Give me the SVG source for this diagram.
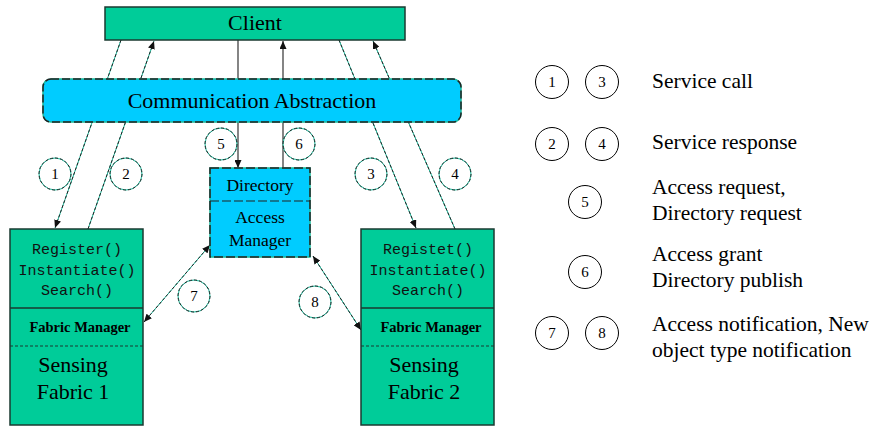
<svg xmlns="http://www.w3.org/2000/svg" width="878" height="426" viewBox="0 0 878 426">
<style>
.serif{font-family:"Liberation Serif","Times New Roman",serif;fill:#000}
.mid{text-anchor:middle}
.mono{font-family:"Liberation Mono","Courier New",monospace;font-size:15px;fill:#111;text-anchor:middle}
.num{font-family:"Liberation Serif","Times New Roman",serif;font-size:15px;text-anchor:middle;fill:#000}
.leg{font-family:"Liberation Serif","Times New Roman",serif;font-size:21.5px;fill:#000}
.green{fill:#00cc99;stroke:#1a3a30;stroke-width:1.5}
.cyanbg{fill:#00ccff;stroke:#17b89a;stroke-width:1.5}
.cyandash{fill:none;stroke:#222;stroke-width:1.5}
.teal{stroke:#17b89a;stroke-width:1;fill:none}
.dk{stroke:#222;stroke-width:1;fill:none;stroke-dasharray:3 2}
.solid{stroke:#333;stroke-width:1.2;fill:none}
.c1{fill:#fff;stroke:#17b89a;stroke-width:1}
.c2{fill:none;stroke:#222;stroke-width:1;stroke-dasharray:3 2}
.lc{fill:#fff;stroke:#000;stroke-width:1}
.sep{stroke:#1a3a30;stroke-width:1.5}
.sepd{stroke:#1a3a30;stroke-width:1;stroke-dasharray:3 2}
</style>
<defs>
<marker id="ah" markerWidth="8" markerHeight="7" refX="8" refY="3.5" orient="auto-start-reverse" markerUnits="userSpaceOnUse">
<path d="M0,0 L8,3.5 L0,7 z" fill="#111"/>
</marker>
</defs>
<rect width="878" height="426" fill="#fff"/>

<g id="connectors">
<line class="teal" x1="121" y1="40" x2="55" y2="228"/>
<line class="dk" x1="121" y1="40" x2="55" y2="228" marker-end="url(#ah)"/>
<line class="teal" x1="88" y1="229" x2="154" y2="41"/>
<line class="dk" x1="88" y1="229" x2="154" y2="41" marker-end="url(#ah)"/>
<line class="teal" x1="339" y1="40" x2="416" y2="228"/>
<line class="dk" x1="339" y1="40" x2="416" y2="228" marker-end="url(#ah)"/>
<line class="teal" x1="455" y1="229" x2="373" y2="41"/>
<line class="dk" x1="455" y1="229" x2="373" y2="41" marker-end="url(#ah)"/>
<line class="solid" x1="238" y1="40" x2="238" y2="168" marker-end="url(#ah)"/>
<line class="solid" x1="283" y1="168" x2="283" y2="41" marker-end="url(#ah)"/>
<line class="teal" x1="210" y1="245" x2="144" y2="322"/>
<line class="dk" x1="210" y1="245" x2="144" y2="322" marker-start="url(#ah)" marker-end="url(#ah)"/>
<line class="teal" x1="313" y1="256" x2="361" y2="330"/>
<line class="dk" x1="313" y1="256" x2="361" y2="330" marker-start="url(#ah)" marker-end="url(#ah)"/>
</g>

<g id="client">
<rect class="green" x="105" y="7" width="300" height="33"/>
<text class="serif mid" x="255" y="30" font-size="22">Client</text>
</g>

<g id="comm-abstraction">
<rect class="cyanbg" x="43" y="79" width="418" height="43" rx="8"/>
<rect class="cyandash" x="43" y="79" width="418" height="43" rx="8" stroke-dasharray="8 3"/>
<text class="serif mid" x="252" y="108" font-size="22">Communication Abstraction</text>
</g>

<g id="directory">
<rect class="cyanbg" x="210" y="168" width="100" height="89"/>
<rect class="cyandash" x="210" y="168" width="100" height="89" stroke-dasharray="9 3"/>
<line x1="210" y1="201" x2="310" y2="201" stroke="#222" stroke-width="1.2" stroke-dasharray="9 3"/>
<text class="serif mid" x="260" y="191" font-size="17.5">Directory</text>
<text class="serif mid" x="260" y="223" font-size="17.5">Access</text>
<text class="serif mid" x="260" y="246" font-size="17.5">Manager</text>
</g>

<g id="fabric1">
<rect class="green" x="10" y="229" width="133" height="196"/>
<line class="sep" x1="10" y1="308" x2="143" y2="308"/>
<line class="sepd" x1="10" y1="346" x2="143" y2="346"/>
<text class="mono" x="77" y="254">Register()</text>
<text class="mono" x="77" y="275">Instantiate()</text>
<text class="mono" x="77" y="295">Search()</text>
<text class="serif mid" x="80" y="332" font-size="14.5" font-weight="bold">Fabric Manager</text>
<text class="serif mid" x="73" y="372" font-size="22">Sensing</text>
<text class="serif mid" x="73" y="399" font-size="22">Fabric 1</text>
</g>

<g id="fabric2">
<rect class="green" x="361" y="229" width="133" height="196"/>
<line class="sep" x1="361" y1="308" x2="494" y2="308"/>
<line class="sepd" x1="361" y1="346" x2="494" y2="346"/>
<text class="mono" x="428" y="254">Registet()</text>
<text class="mono" x="428" y="275">Instantiate()</text>
<text class="mono" x="428" y="295">Search()</text>
<text class="serif mid" x="431" y="332" font-size="14.5" font-weight="bold">Fabric Manager</text>
<text class="serif mid" x="424" y="372" font-size="22">Sensing</text>
<text class="serif mid" x="424" y="399" font-size="22">Fabric 2</text>
</g>

<g id="labels">
<g id="lbl1"><circle class="c1" cx="55" cy="174" r="16"/><circle class="c2" cx="55" cy="174" r="16"/><text class="num" x="55" y="179">1</text></g>
<g id="lbl2"><circle class="c1" cx="126" cy="174" r="16"/><circle class="c2" cx="126" cy="174" r="16"/><text class="num" x="126" y="179">2</text></g>
<g id="lbl3"><circle class="c1" cx="371" cy="174" r="16"/><circle class="c2" cx="371" cy="174" r="16"/><text class="num" x="371" y="179">3</text></g>
<g id="lbl4"><circle class="c1" cx="455" cy="174" r="16"/><circle class="c2" cx="455" cy="174" r="16"/><text class="num" x="455" y="179">4</text></g>
<g id="lbl5"><circle class="c1" cx="221" cy="144" r="16"/><circle class="c2" cx="221" cy="144" r="16"/><text class="num" x="221" y="149">5</text></g>
<g id="lbl6"><circle class="c1" cx="299" cy="144" r="16"/><circle class="c2" cx="299" cy="144" r="16"/><text class="num" x="299" y="149">6</text></g>
<g id="lbl7"><circle class="c1" cx="194" cy="296" r="16"/><circle class="c2" cx="194" cy="296" r="16"/><text class="num" x="194" y="301">7</text></g>
<g id="lbl8"><circle class="c1" cx="315" cy="302" r="16"/><circle class="c2" cx="315" cy="302" r="16"/><text class="num" x="315" y="307">8</text></g>
</g>

<g id="legend">
<circle class="lc" cx="552" cy="82" r="16.5"/><text class="num" x="552" y="87">1</text>
<circle class="lc" cx="602" cy="82" r="16.5"/><text class="num" x="602" y="87">3</text>
<text class="leg" x="652" y="88">Service call</text>
<circle class="lc" cx="552" cy="144" r="16.5"/><text class="num" x="552" y="149">2</text>
<circle class="lc" cx="602" cy="144" r="16.5"/><text class="num" x="602" y="149">4</text>
<text class="leg" x="652" y="149">Service response</text>
<circle class="lc" cx="585" cy="202" r="16.5"/><text class="num" x="585" y="207">5</text>
<text class="leg" x="652" y="194">Access request,</text>
<text class="leg" x="652" y="220">Directory request</text>
<circle class="lc" cx="585" cy="272" r="16.5"/><text class="num" x="585" y="277">6</text>
<text class="leg" x="652" y="261">Access grant</text>
<text class="leg" x="652" y="287">Directory publish</text>
<circle class="lc" cx="552" cy="333" r="16.5"/><text class="num" x="552" y="338">7</text>
<circle class="lc" cx="602" cy="333" r="16.5"/><text class="num" x="602" y="338">8</text>
<text class="leg" x="652" y="331">Access notification, New</text>
<text class="leg" x="652" y="357">object type notification</text>
</g>
</svg>
